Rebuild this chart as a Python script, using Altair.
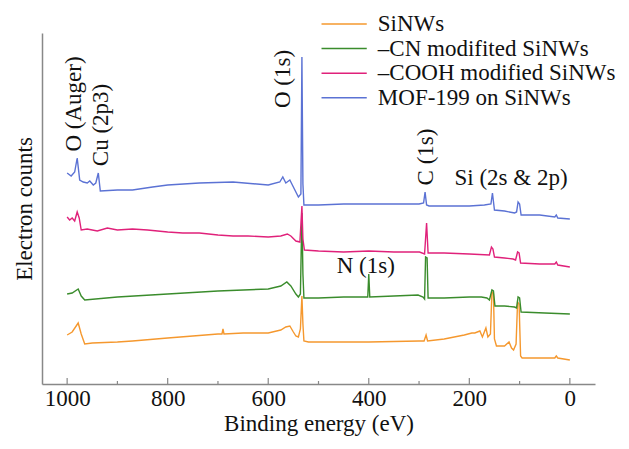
import altair as alt
import pandas as pd

# ---------------- data (binding energy in eV, counts in arbitrary offset units) ----
series_names = ["SiNWs", "–CN modifited SiNWs", "–COOH modified SiNWs", "MOF-199 on SiNWs"]
series_colors = ["#f5982e", "#3a8c2c", "#e0217a", "#5b72d4"]

sinw_ev = [1000, 990, 978, 972, 965, 950, 900, 870, 800, 750, 700, 692, 690, 688, 650, 600,
           575, 565, 557, 550, 545, 540, 536, 533, 531, 529, 520, 500, 400, 300, 290, 286, 283,
           250, 210, 195, 189, 179, 174, 167, 163, 158, 155, 152, 150, 146, 130, 121, 116, 112,
           107, 104, 101, 98, 95, 60, 30, 27, 24, 0]
sinw_counts = [49, 52, 61, 50, 40, 41, 42, 43, 46, 48, 50, 50, 55, 50, 51, 51,
               54, 57, 58, 52, 48, 47, 55, 88, 60, 43, 42, 42, 42, 43, 43, 49, 43,
               45, 49, 51, 51, 53, 47, 56, 47, 50, 92, 90, 45, 38, 38, 42, 36, 34,
               40, 82, 80, 28, 26, 26, 26, 28, 26, 24]

cn_ev = [1000, 990, 978, 972, 965, 900, 800, 700, 600, 575, 563, 555, 545, 540, 536, 533, 531,
         529, 500, 450, 405, 402, 400, 398, 350, 302, 292, 289, 287, 284, 282, 250, 200, 176,
         165, 160, 155, 152, 149, 130, 110, 106, 103, 100, 97, 50, 0]
cn_counts = [90, 91, 95, 88, 84, 87, 90, 93, 95, 98, 102, 98, 90, 87, 90, 171, 110,
             86, 86, 87, 87, 87, 110, 87, 88, 89, 87, 85, 127, 126, 86, 86, 87, 87,
             86, 84, 94, 93, 78, 78, 77, 76, 87, 86, 72, 71, 70]

cooh_ev = [1000, 995, 990, 985, 980, 976, 972, 960, 940, 920, 900, 870, 840, 800, 770, 737,
           700, 670, 640, 600, 575, 562, 555, 545, 537, 533, 531, 528, 500, 450, 400, 350,
           299, 289, 285, 282, 250, 200, 160, 156, 153, 150, 130, 113, 108, 104, 101, 98,
           60, 30, 27, 24, 0]
cooh_counts = [167, 164, 166, 163, 172, 166, 154, 155, 153, 156, 154, 155, 154, 152, 151, 151,
               149, 148, 148, 147, 148, 150, 148, 143, 142, 178, 145, 134, 133, 132, 133, 132,
               132, 130, 161, 131, 131, 130, 129, 137, 135, 127, 126, 125, 124, 132, 131, 121,
               120, 120, 122, 119, 117]

mof_ev = [1000, 992, 985, 980, 975, 968, 960, 955, 948, 943, 938, 934, 900, 870, 830, 800,
          737, 670, 600, 577, 571, 565, 557, 548, 540, 535, 533, 531, 529, 500, 450, 400,
          300, 291, 288, 285, 280, 200, 170, 157, 154, 150, 130, 110, 106, 103, 100, 97,
          60, 30, 27, 24, 0]
mof_counts = [211, 208, 212, 226, 204, 202, 201, 203, 199, 201, 211, 193, 194, 194, 197, 199,
              201, 202, 199, 202, 207, 201, 204, 195, 187, 190, 327, 200, 179, 179, 180, 180,
              180, 181, 192, 179, 178, 178, 179, 180, 191, 174, 173, 171, 172, 182, 180, 169,
              169, 167, 169, 166, 165]

# peak annotations
rot_labels = ["O (Auger)", "Cu (2p3)", "O (1s)", "C (1s)"]
rot_ev = [987, 933, 571, 287]
rot_counts = [280, 259, 305, 227]
flat_labels = ["Si (2s & 2p)", "N (1s)"]
flat_ev = [117, 406]
flat_counts = [206, 118]

major_ticks = [1000, 800, 600, 400, 200, 0]
minor_ticks = [900, 700, 500, 300, 100]

# ---------------- build tables ----------------
frames = []
for name, ev, ct in zip(series_names,
                        [sinw_ev, cn_ev, cooh_ev, mof_ev],
                        [sinw_counts, cn_counts, cooh_counts, mof_counts]):
    frames.append(pd.DataFrame({"ev": ev, "counts": ct, "series": name}))
spec = pd.concat(frames, ignore_index=True)
spec["order"] = spec.index

FONT = "Liberation Serif"
FS = 23

xscale = alt.Scale(domain=[1050, -50], nice=False, zero=False)
yscale = alt.Scale(domain=[0, 351], nice=False, zero=False)
cscale = alt.Scale(domain=series_names, range=series_colors)

lines = alt.Chart(spec).mark_line(strokeWidth=1.4).encode(
    x=alt.X("ev:Q", scale=xscale,
            axis=alt.Axis(values=major_ticks, title="Binding energy (eV)", format="d",
                          ticks=False, grid=False, labelFont=FONT, labelFontSize=FS,
                          labelColor="#111", labelPadding=3, titleFont=FONT,
                          titleFontSize=FS, titleFontWeight="normal", titleColor="#111",
                          titlePadding=2, domainColor="#888", domainWidth=1.5)),
    y=alt.Y("counts:Q", scale=yscale,
            axis=alt.Axis(ticks=False, labels=False, grid=False, title="Electron counts",
                          titleFont=FONT, titleFontSize=FS, titleFontWeight="normal",
                          titleColor="#111", titlePadding=6, domainColor="#888",
                          domainWidth=1.5)),
    color=alt.Color("series:N", scale=cscale, legend=None),
    detail="series:N",
    order="order:Q",
)

tick_df = pd.DataFrame({"ev": major_ticks + minor_ticks,
                        "kind": ["major"] * len(major_ticks) + ["minor"] * len(minor_ticks)})
tick_major = alt.Chart(tick_df).transform_filter(alt.datum.kind == "major").mark_rule(
    color="#888", strokeWidth=1.2).encode(x=alt.X("ev:Q", scale=xscale),
                                         y=alt.value(351), y2=alt.value(345))
tick_minor = alt.Chart(tick_df).transform_filter(alt.datum.kind == "minor").mark_rule(
    color="#888", strokeWidth=1.2).encode(x=alt.X("ev:Q", scale=xscale),
                                         y=alt.value(351), y2=alt.value(348))

rot_df = pd.DataFrame({"label": rot_labels, "ev": rot_ev, "counts": rot_counts})
rot_text = alt.Chart(rot_df).mark_text(angle=270, align="center", baseline="middle",
                                       font=FONT, fontSize=FS, color="#111").encode(
    x=alt.X("ev:Q", scale=xscale), y=alt.Y("counts:Q", scale=yscale), text="label:N")

flat_df = pd.DataFrame({"label": flat_labels, "ev": flat_ev, "counts": flat_counts})
flat_text = alt.Chart(flat_df).mark_text(align="center", baseline="middle",
                                         font=FONT, fontSize=FS, color="#111").encode(
    x=alt.X("ev:Q", scale=xscale), y=alt.Y("counts:Q", scale=yscale), text="label:N")

# manual legend (positions in data space above the traces)
leg_df = pd.DataFrame({"series": series_names, "idx": list(range(len(series_names)))})
leg_base = alt.Chart(leg_df).transform_calculate(
    ly="360 - 24.6 * datum.idx", x1="494", x2="404", xt="382")
leg_lines = leg_base.mark_rule(strokeWidth=1.5).encode(
    x=alt.X("x1:Q", scale=xscale), x2="x2:Q",
    y=alt.Y("ly:Q", scale=yscale),
    color=alt.Color("series:N", scale=cscale, legend=None))
leg_text = leg_base.mark_text(align="left", baseline="middle", font=FONT, fontSize=FS,
                              color="#111").encode(
    x=alt.X("xt:Q", scale=xscale), y=alt.Y("ly:Q", scale=yscale), text="series:N")

chart = alt.layer(tick_major, tick_minor, lines, rot_text, flat_text, leg_lines, leg_text).properties(
    width=553, height=351,
    autosize=alt.AutoSizeParams(type="none"),
    padding={"left": 34, "top": 25, "right": 26, "bottom": 57},
    background="white",
).configure(font=FONT).configure_view(stroke=None)

chart.save("out.html", embed_options={"renderer": "svg", "actions": False})
